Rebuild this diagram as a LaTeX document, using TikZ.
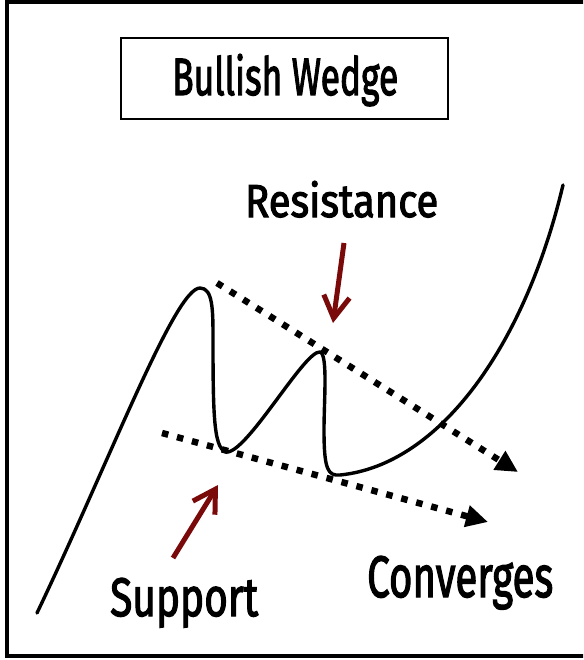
\documentclass[tikz,border=0pt]{standalone}
\usepackage{fontspec}
\setmainfont{Fira Sans}
\usetikzlibrary{arrows.meta}
\definecolor{arrowred}{HTML}{7A0A0A}
\tikzset{
  lbl/.style={inner sep=0pt, anchor=base west},
  price/.style={line width=3.4pt, line cap=round, line join=round},
  trendline/.style={line width=6.5pt, dash pattern=on 6.5pt off 9pt, -{Triangle[length=22pt,width=21pt]}},
  pointer/.style={line width=5pt, color=arrowred, -{Straight Barb[length=22pt,width=26pt,line width=5pt]}},
}
\newcommand{\fitlabel}[3]{\resizebox{#1pt}{#2pt}{\fontspec{Fira Sans}[FakeBold=2.5]#3}}
\begin{document}
\begin{tikzpicture}[x=1pt,y=-1pt]
\useasboundingbox (0,0) rectangle (583,660);
\clip (0,0) rectangle (583,660);
\fill[white] (0,0) rectangle (583,660);
% outer frame (right side cut off)
\draw[line width=4.5pt] (7,2) rectangle (620,656);
% title
\draw[line width=2.6pt] (121,38) rectangle (448,119);
\node[lbl] (title) at (172,95) {\fitlabel{226}{41}{Bullish Wedge}};
% labels
\node[lbl] (res) at (245,217) {\fitlabel{193}{36}{Resistance}};
\node[lbl] (sup) at (110,616) {\fitlabel{148}{38}{Support}};
\node[lbl] (conv) at (367,597) {\fitlabel{186}{41}{Converges}};
% trend lines
\coordinate (u1) at (217,283);
\coordinate (u2) at (518,472);
\coordinate (l1) at (162,433);
\coordinate (l2) at (488,522);
\draw[trendline] (u1) -- (u2);
\draw[trendline] (l1) -- (l2);
% price curve
\draw[price] (37,613) .. controls (110,460) and (175,288) .. (200,288)
  .. controls (213,288) and (213,310) .. (213,340)
  .. controls (213,420) and (214,452) .. (228,452)
  .. controls (250,448) and (305,350) .. (320,352)
  .. controls (328,354) and (324,400) .. (324,430)
  .. controls (324,470) and (328,476) .. (340,475)
  .. controls (440,465) and (525,345) .. (563,185);
% red pointers
\coordinate (ra1) at (344,243);
\coordinate (ra2) at (333,323);
\coordinate (sa1) at (173,558);
\coordinate (sa2) at (218,485);
\draw[pointer] (ra1) -- (ra2);
\draw[pointer] (sa1) -- (sa2);
\end{tikzpicture}
\end{document}
